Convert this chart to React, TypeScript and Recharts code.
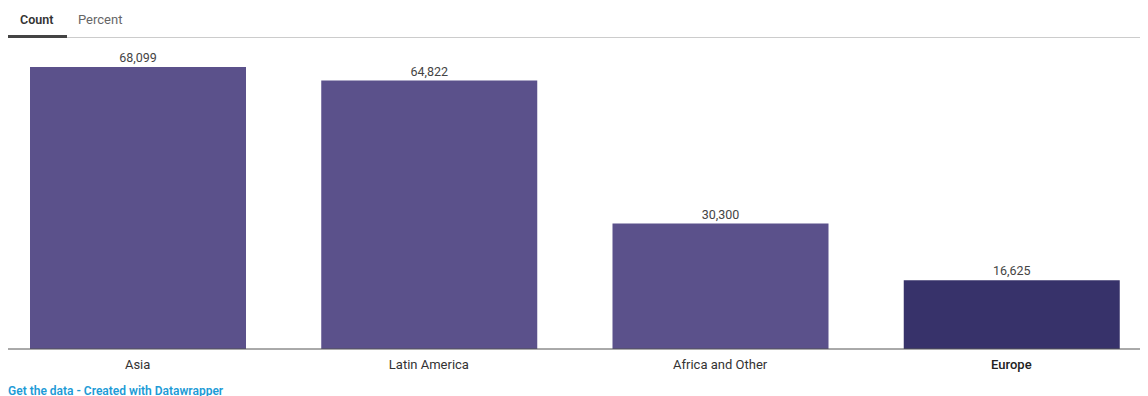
import { Bar, BarChart, Cell, LabelList, XAxis, YAxis } from "recharts"

const regions = ["Asia", "Latin America", "Africa and Other", "Europe"]
const counts = [68099, 64822, 30300, 16625]
const tabs = ["Count", "Percent"]

const barColor = "#5b518b"
const highlightColor = "#37326a"

const chartData = regions.map((name, i) => ({ name, count: counts[i] }))

const font = "Roboto, 'Noto Sans', sans-serif"

function RegionTick(props: any) {
  const { x, y, payload } = props
  const isEurope = payload.value === "Europe"
  return (
    <text
      x={x}
      y={y}
      dy={12}
      textAnchor="middle"
      fontSize={13}
      fontFamily={font}
      fill={isEurope ? "#222" : "#333"}
      fontWeight={isEurope ? 500 : 400}
    >
      {payload.value}
    </text>
  )
}

export default function App() {
  return (
    <div style={{ position: "relative", width: 1140, height: 388, fontFamily: font }}>
      {/* tabs */}
      <div style={{ position: "absolute", left: 12, top: 4, fontSize: 12.5, fontWeight: 600, color: "#333" }}>
        {tabs[0]}
      </div>
      <div style={{ position: "absolute", left: 70, top: 4, fontSize: 13, color: "#666" }}>{tabs[1]}</div>
      <div style={{ position: "absolute", left: 0, top: 27, width: 59, height: 3, background: "#444" }} />
      <div style={{ position: "absolute", left: 59, top: 29, width: 1081, height: 1, background: "#ccc" }} />

      <div style={{ position: "absolute", left: 0, top: 32 }}>
        <BarChart
          width={1140}
          height={334}
          data={chartData}
          margin={{ top: 27, right: 8, bottom: 0, left: 0 }}
        >
          <XAxis
            dataKey="name"
            tickLine={false}
            axisLine={{ stroke: "#555", strokeWidth: 1 }}
            padding={{ left: -16, right: -17 }}
            height={25}
            interval={0}
            tick={<RegionTick />}
          />
          <YAxis hide domain={[0, "dataMax"]} />
          <Bar dataKey="count" barSize={216} isAnimationActive={false}>
            {chartData.map((d, i) => (
              <Cell key={d.name} fill={i === 3 ? highlightColor : barColor} />
            ))}
            <LabelList
              dataKey="count"
              position="top"
              offset={5}
              fontSize={12.5}
              fontFamily={font}
              fill="#444"
              formatter={(v: any) => Number(v).toLocaleString("en-US")}
            />
          </Bar>
        </BarChart>
      </div>

      <div style={{ position: "absolute", left: 0, top: 376, fontSize: 12, fontWeight: 600, color: "#1d9bd6" }}>
        Get the data - Created with Datawrapper
      </div>
    </div>
  )
}
